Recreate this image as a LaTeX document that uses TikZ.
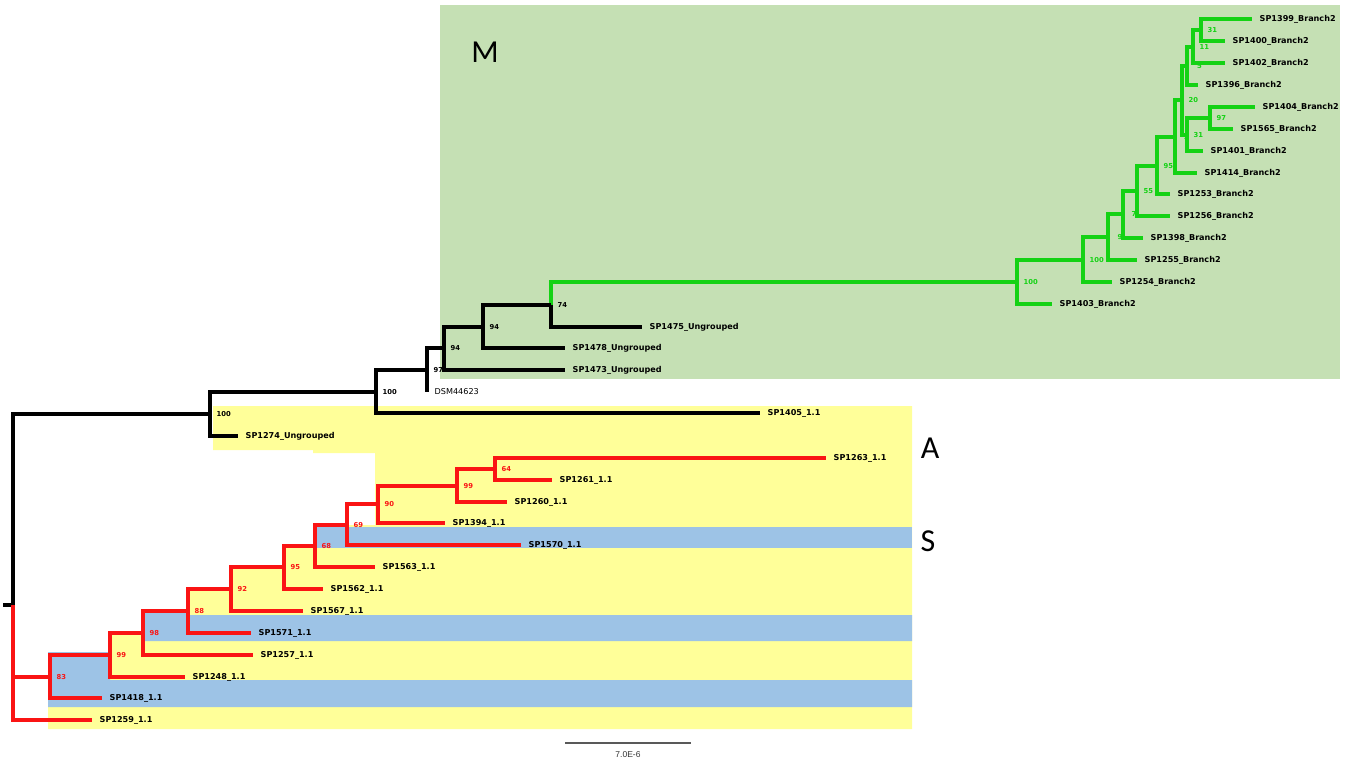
\documentclass[tikz,border=0pt]{standalone}
\usepackage{fontspec}
\setmainfont{DejaVu Sans}
\newfontfamily\grpfont{Carlito}
\newfontfamily\barfont{Liberation Sans}
\definecolor{treegreen}{RGB}{20,210,20}
\definecolor{treered}{RGB}{250,20,20}
\definecolor{boxgreen}{RGB}{197,224,180}
\definecolor{boxyellow}{RGB}{255,255,153}
\definecolor{boxblue}{RGB}{157,195,230}
\tikzset{
  br/.style={line width=3.3pt, draw=black},
  brg/.style={br, draw=treegreen},
  brr/.style={br, draw=treered},
  leaf/.style={anchor=west, inner xsep=7.5pt, inner ysep=1pt, font=\bfseries\fontsize{8.1}{9}\selectfont},
  boot/.style={anchor=west, inner sep=0pt, xshift=6.5pt, font=\bfseries\fontsize{6.8}{7}\selectfont},
  grp/.style={font=\grpfont\fontsize{32}{34}\selectfont},
  scalebar/.style={draw=black!65, line width=1.2pt}
}

\begin{document}
\begin{tikzpicture}[x=1pt, y=-1pt]
  \useasboundingbox (0,0) rectangle (1352,761);

  % clade boxes
  \fill[boxgreen] (440,5) rectangle (1340,379);
  \fill[boxyellow] (213,406) -- (912,406) -- (912,729) -- (48,729) -- (48,652) -- (110,652)
    -- (110,633) -- (143,633) -- (143,611) -- (188,611) -- (188,589) -- (231,589)
    -- (231,567) -- (283,567) -- (283,545) -- (313,545) -- (313,525) -- (375,525)
    -- (375,453) -- (313,453) -- (313,450) -- (213,450) -- cycle;
  \fill[boxblue] (316,527) rectangle (912,548);
  \fill[boxblue] (143,611) -- (188,611) -- (188,615) -- (912,615) -- (912,641) -- (143,641) -- cycle;
  \fill[boxblue] (48,652) -- (110,652) -- (110,680) -- (912,680) -- (912,707) -- (48,707) -- cycle;
  \node[grp] (grpM) at (485,52) {M};
  \node[grp] (grpA) at (930,448) {A};
  \node[grp] (grpS) at (928,541) {S};

  % internal nodes
  \foreach \nm/\x/\y in {nA/1201/30, nB/1193/47, nC/1187/66, nD/1182/100, nF/1210/118,
      nE/1187/135, nG/1175/137, n95g/1157/166, n55/1137/191, n7x/1123/214, n9x/1108/237,
      n100d/1083/260, n100c/1017/282, n74/551/305, n94b/483/327, n94a/444/348,
      n97/427/370, n100b/376/392, n100a/210/414, root/13/605, stem/3/605,
      n64/495/469, n99b/457/486, n90/378/504, n69/347/525, n68/315/546, n95/284/567,
      n92/231/589, n88/188/611, n98/143/633, n99a/110/655, n83/50/677}
    \coordinate (\nm) at (\x,\y);

  % leaves
  \foreach \nm/\x/\y/\lab in {sp1399/1252/19/SP1399\_Branch2, sp1400/1225/41/SP1400\_Branch2,
      sp1402/1225/63/SP1402\_Branch2, sp1396/1198/85/SP1396\_Branch2,
      sp1404/1255/107/SP1404\_Branch2, sp1565/1233/129/SP1565\_Branch2,
      sp1401/1203/151/SP1401\_Branch2, sp1414/1197/173/SP1414\_Branch2,
      sp1253/1170/194/SP1253\_Branch2, sp1256/1170/216/SP1256\_Branch2,
      sp1398/1143/238/SP1398\_Branch2, sp1255/1137/260/SP1255\_Branch2,
      sp1254/1112/282/SP1254\_Branch2, sp1403/1052/304/SP1403\_Branch2,
      sp1475/642/327/SP1475\_Ungrouped, sp1478/565/348/SP1478\_Ungrouped,
      sp1473/565/370/SP1473\_Ungrouped, sp1405/760/413/SP1405\_1.1,
      sp1274/238/436/SP1274\_Ungrouped, sp1263/826/458/SP1263\_1.1,
      sp1261/552/480/SP1261\_1.1, sp1260/507/502/SP1260\_1.1, sp1394/445/523/SP1394\_1.1,
      sp1570/521/545/SP1570\_1.1, sp1563/375/567/SP1563\_1.1, sp1562/323/589/SP1562\_1.1,
      sp1567/303/611/SP1567\_1.1, sp1571/251/633/SP1571\_1.1, sp1257/253/655/SP1257\_1.1,
      sp1248/185/677/SP1248\_1.1, sp1418/102/698/SP1418\_1.1, sp1259/92/720/SP1259\_1.1}
    \node[leaf] (\nm) at (\x,\y) {\lab};
  \node[leaf, font=\fontsize{8.1}{9}\selectfont] (dsm) at (427,392) {DSM44623};

  % bootstrap values
  \foreach \nm/\v/\c in {nA/31/treegreen, nB/11/treegreen, nD/20/treegreen, nF/97/treegreen,
      nE/31/treegreen, n95g/95/treegreen, n55/55/treegreen, n100d/100/treegreen,
      n100c/100/treegreen, n74/74/black, n94b/94/black, n94a/94/black, n97/97/black,
      n100b/100/black, n100a/100/black, n64/64/treered, n99b/99/treered, n90/90/treered,
      n69/69/treered, n68/68/treered, n95/95/treered, n92/92/treered, n88/88/treered,
      n98/98/treered, n99a/99/treered, n83/83/treered}
    \node[boot, text=\c] (b\nm) at (\nm) {\v};
  \node[boot, text=treegreen, xshift=3.5pt] (bnC) at (nC) {5};
  \node[boot, text=treegreen, xshift=2.5pt] (bnG) at (nG) {3};
  \node[boot, text=treegreen, xshift=3pt] (bn9x) at (n9x) {9};
  \node[boot, text=treegreen, xshift=2pt] (bn7x) at (n7x) {7};

  % branches
  \foreach \p/\c in {nA/sp1399, nA/sp1400, nB/nA, nB/sp1402, nC/nB, nC/sp1396, nD/nC, nD/nE,
      nF/sp1404, nF/sp1565, nE/nF, nE/sp1401, nG/nD, nG/sp1414, n95g/nG, n95g/sp1253,
      n55/n95g, n55/sp1256, n7x/n55, n7x/sp1398, n9x/n7x, n9x/sp1255, n100d/n9x,
      n100d/sp1254, n100c/n100d, n100c/sp1403, n74/n100c}
    \draw[brg] (\p) |- (\c);
  \foreach \p/\c in {n74/sp1475, n94b/n74, n94b/sp1478, n94a/n94b, n94a/sp1473, n97/n94a,
      n97/dsm, n100b/n97, n100b/sp1405, n100a/n100b, n100a/sp1274, root/n100a}
    \draw[br] (\p) |- (\c);
  \draw[br] (root) -- (stem);
  \foreach \p/\c in {n64/sp1263, n64/sp1261, n99b/n64, n99b/sp1260, n90/n99b, n90/sp1394,
      n69/n90, n69/sp1570, n68/n69, n68/sp1563, n95/n68, n95/sp1562, n92/n95, n92/sp1567,
      n88/n92, n88/sp1571, n98/n88, n98/sp1257, n99a/n98, n99a/sp1248, n83/n99a,
      n83/sp1418, root/n83, root/sp1259}
    \draw[brr] (\p) |- (\c);

  % scale bar
  \coordinate (sbL) at (565,743);
  \coordinate (sbR) at (691,743);
  \draw[scalebar] (sbL) -- (sbR) node[midway, yshift=-12pt, text=black!80, font=\barfont\fontsize{8.5}{9}\selectfont] (sbtxt) {7.0E-6};
\end{tikzpicture}
\end{document}
